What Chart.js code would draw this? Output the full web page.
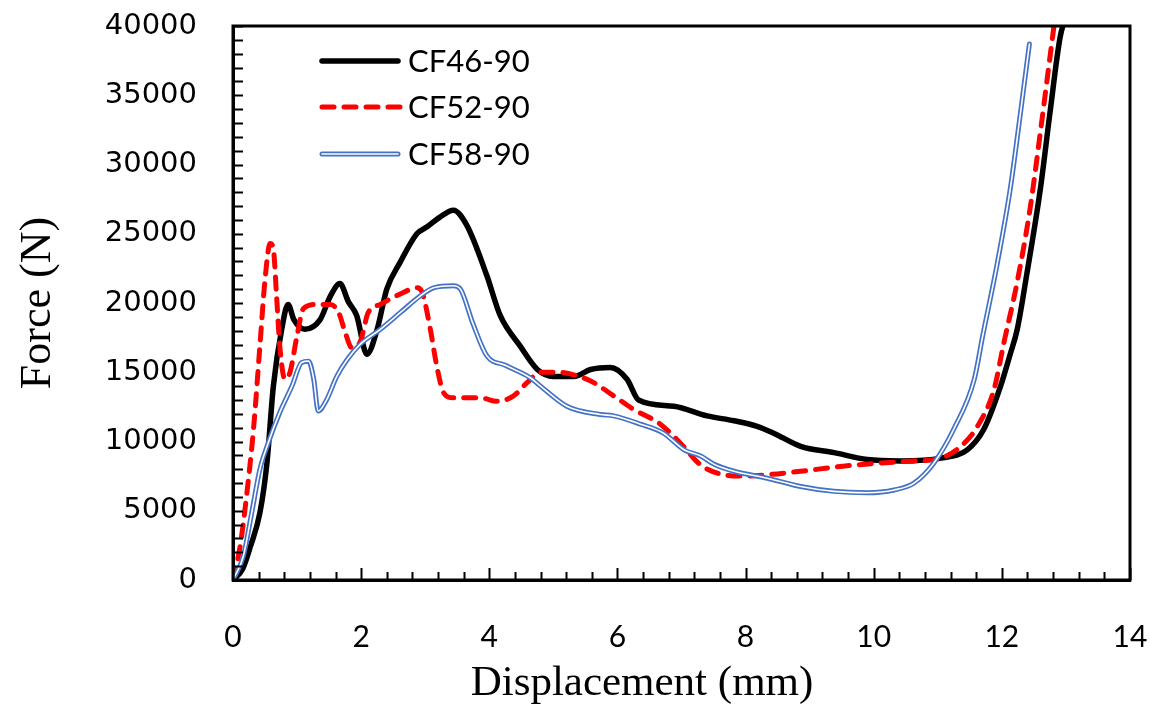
<!DOCTYPE html>
<html><head><meta charset="utf-8">
<script src="https://cdn.jsdelivr.net/npm/chart.js@4.4.0/dist/chart.umd.min.js"></script>
<style>html,body{margin:0;padding:0;background:#fff;}</style>
</head><body>
<canvas id="c" width="1150" height="706"></canvas>
<script>
const seriesNames = ['CF46-90', 'CF52-90', 'CF58-90'];
const xTitle = 'Displacement (mm)';
const yTitle = 'Force (N)';

const cf46X = [0, 0.15, 0.27, 0.42, 0.53, 0.63, 0.76, 0.86, 0.95, 1.12, 1.36, 1.52, 1.67, 1.80, 1.93, 2.09, 2.25, 2.40, 2.61, 2.87, 3.03, 3.23, 3.44, 3.65, 3.96, 4.17, 4.48, 4.75, 5.00, 5.32, 5.58, 5.89, 6.15, 6.33, 6.88, 7.40, 7.82, 8.18, 8.44, 8.86, 9.38, 9.90, 10.42, 11.05, 11.46, 11.72, 11.98, 12.13, 12.24, 12.39, 12.60, 12.75, 12.91, 13.02];
const cf46Y = [0, 800, 2400, 4850, 8450, 14000, 18100, 19900, 18800, 18100, 18800, 20500, 21400, 20100, 19100, 16300, 18100, 21000, 22950, 25000, 25500, 26200, 26700, 25600, 22000, 19100, 16900, 15200, 14700, 14700, 15200, 15350, 14500, 13000, 12550, 11850, 11500, 11100, 10600, 9650, 9200, 8700, 8600, 8800, 9400, 10900, 14000, 16300, 18100, 22100, 28200, 33700, 39200, 41000];

const cf52X = [0, 0.11, 0.21, 0.32, 0.42, 0.50, 0.58, 0.63, 0.68, 0.73, 0.81, 0.89, 0.99, 1.10, 1.31, 1.52, 1.65, 1.75, 1.85, 1.98, 2.11, 2.30, 2.61, 2.87, 2.95, 3.08, 3.18, 3.29, 3.44, 3.86, 4.12, 4.38, 4.59, 4.80, 5.06, 5.37, 5.63, 5.94, 6.26, 6.67, 6.98, 7.30, 7.66, 7.95, 8.34, 8.86, 9.48, 10.11, 10.63, 11.05, 11.36, 11.62, 11.88, 12.03, 12.23, 12.44, 12.60, 12.73, 12.83];
const cf52Y = [0, 2400, 6000, 10900, 16900, 21700, 24300, 23900, 20500, 16900, 14500, 15000, 17400, 19600, 19900, 19900, 19300, 17900, 16800, 17150, 19300, 19900, 20650, 21100, 20800, 18100, 15450, 13500, 13150, 13150, 12900, 13300, 14250, 15000, 15000, 14750, 14250, 13300, 12300, 11250, 9900, 8300, 7600, 7500, 7600, 7850, 8200, 8450, 8600, 8800, 9650, 11100, 13800, 17100, 21300, 26800, 32300, 37000, 40600];

const cf58X = [0, 0.16, 0.29, 0.42, 0.55, 0.73, 0.92, 1.07, 1.18, 1.26, 1.33, 1.46, 1.62, 1.78, 1.98, 2.30, 2.61, 2.92, 3.13, 3.44, 3.55, 3.75, 3.96, 4.25, 4.64, 4.80, 5.21, 5.73, 5.94, 6.36, 6.72, 7.04, 7.30, 7.51, 7.82, 8.34, 8.86, 9.38, 9.90, 10.32, 10.63, 10.94, 11.25, 11.57, 11.70, 11.92, 12.13, 12.29, 12.43];
const cf58Y = [0, 1700, 4800, 8000, 9900, 12100, 14000, 15700, 15800, 14500, 12200, 13000, 14700, 15900, 17000, 18100, 19300, 20500, 21100, 21250, 21000, 18450, 16200, 15500, 14600, 14000, 12550, 11950, 11850, 11250, 10600, 9400, 8950, 8350, 7850, 7350, 6750, 6400, 6300, 6500, 7000, 8450, 10900, 14500, 17600, 22650, 28200, 33700, 38700];

const xTickLabels = [0, 2, 4, 6, 8, 10, 12, 14];
const yTickLabels = [0, 5000, 10000, 15000, 20000, 25000, 30000, 35000, 40000];

function pts(xs, ys) { return xs.map((x, i) => ({x: x, y: ys[i]})); }

const BLUE = '#4472C4';
const RED_DASH = [12, 10];

const frameAndTicks = {
  id: 'frameAndTicks',
  afterDatasetsDraw(chart) {
    const ctx = chart.ctx, a = chart.chartArea;
    const xs = chart.scales.x, ys = chart.scales.y;
    ctx.save();
    ctx.strokeStyle = '#000';
    ctx.lineWidth = 2;
    ctx.beginPath();
    for (let i = 0; i <= 35; i++) {
      const v = i * 0.4;
      const px = Math.round(xs.getPixelForValue(v)) + 0.5;
      const len = (i % 5 === 0) ? 12 : 8;
      ctx.moveTo(px, a.bottom);
      ctx.lineTo(px, a.bottom - len);
    }
    for (let i = 0; i <= 40; i++) {
      const py = Math.round(ys.getPixelForValue(i * 1000)) + 0.5;
      ctx.moveTo(a.left, py);
      ctx.lineTo(a.left + 10, py);
    }
    ctx.stroke();
    ctx.lineWidth = 3;
    ctx.strokeRect(a.left, a.top, a.right - a.left, a.bottom - a.top);
    ctx.restore();
  }
};

const legendPlugin = {
  id: 'customLegend',
  afterDraw(chart) {
    const ctx = chart.ctx, a = chart.chartArea;
    const x0 = a.left + 89, x1 = a.left + 165, tx = a.left + 175;
    const rows = [a.top + 35, a.top + 81, a.top + 128];
    ctx.save();
    ctx.lineCap = 'round';
    ctx.strokeStyle = '#000'; ctx.lineWidth = 5.5;
    ctx.beginPath(); ctx.moveTo(x0, rows[0]); ctx.lineTo(x1, rows[0]); ctx.stroke();
    ctx.strokeStyle = '#FF0000'; ctx.lineWidth = 5; ctx.setLineDash(RED_DASH);
    ctx.beginPath(); ctx.moveTo(x0, rows[1]); ctx.lineTo(x1 + 2, rows[1]); ctx.stroke();
    ctx.setLineDash([]);
    ctx.strokeStyle = BLUE; ctx.lineWidth = 5;
    ctx.beginPath(); ctx.moveTo(x0, rows[2]); ctx.lineTo(x1, rows[2]); ctx.stroke();
    ctx.strokeStyle = '#fff'; ctx.lineWidth = 1.6;
    ctx.beginPath(); ctx.moveTo(x0, rows[2]); ctx.lineTo(x1, rows[2]); ctx.stroke();
    ctx.fillStyle = '#000';
    ctx.font = '31px Lato, "Open Sans", sans-serif';
    ctx.textBaseline = 'middle';
    ctx.textAlign = 'left';
    seriesNames.forEach((n, i) => ctx.fillText(n, tx, rows[i] + 1));
    // x axis title
    ctx.font = '43px "Liberation Serif", "DejaVu Serif", serif';
    ctx.textAlign = 'center';
    ctx.fillText(xTitle, 642, 684);
    ctx.restore();
  }
};

new Chart(document.getElementById('c'), {
  type: 'scatter',
  data: {
    datasets: [
      { label: seriesNames[0], data: pts(cf46X, cf46Y), showLine: true, borderColor: '#000', borderWidth: 5.5, pointRadius: 0, cubicInterpolationMode: 'monotone', order: 3 },
      { label: seriesNames[1], data: pts(cf52X, cf52Y), showLine: true, borderColor: '#FF0000', borderWidth: 5, borderDash: RED_DASH, borderCapStyle: 'round', pointRadius: 0, cubicInterpolationMode: 'monotone', order: 2 },
      { label: seriesNames[2], data: pts(cf58X, cf58Y), showLine: true, borderColor: BLUE, borderWidth: 5, borderCapStyle: 'round', pointRadius: 0, cubicInterpolationMode: 'monotone', order: 1 },
      { label: seriesNames[2] + ' inner', data: pts(cf58X, cf58Y), showLine: true, borderColor: '#fff', borderWidth: 1.6, borderCapStyle: 'round', pointRadius: 0, cubicInterpolationMode: 'monotone', order: 0 }
    ]
  },
  options: {
    responsive: false,
    animation: false,
    devicePixelRatio: 1,
    layout: { padding: { top: 26, right: 20, left: 0, bottom: 0 } },
    plugins: { legend: { display: false }, tooltip: { enabled: false } },
    scales: {
      x: {
        type: 'linear', min: 0, max: 14,
        afterFit(s) { s.height = 126; s.paddingLeft = 0; s.paddingRight = 0; },
        afterBuildTicks(s) { s.ticks = xTickLabels.map(v => ({ value: v })); },
        ticks: { color: '#000', font: { family: 'Lato, "Open Sans", sans-serif', size: 30 }, padding: 39, maxRotation: 0, autoSkip: false, callback: v => String(v) },
        grid: { drawOnChartArea: false, drawTicks: false },
        border: { color: '#000', width: 3 },
        title: { display: false }
      },
      y: {
        type: 'linear', min: 0, max: 40000,
        afterFit(s) { s.width = 233; s.paddingTop = 0; s.paddingBottom = 0; },
        afterBuildTicks(s) { s.ticks = yTickLabels.map(v => ({ value: v })); },
        ticks: { color: '#000', font: { family: '"DejaVu Sans", sans-serif', size: 29 }, padding: 36, autoSkip: false, callback: v => String(v) },
        grid: { drawOnChartArea: false, drawTicks: false },
        border: { color: '#000', width: 3 },
        title: { display: true, text: yTitle, color: '#000', font: { family: '"Liberation Serif", "DejaVu Serif", serif', size: 44, lineHeight: 1 }, padding: { top: 16, bottom: 0 } }
      }
    }
  },
  plugins: [frameAndTicks, legendPlugin]
});
</script>
</body></html>
